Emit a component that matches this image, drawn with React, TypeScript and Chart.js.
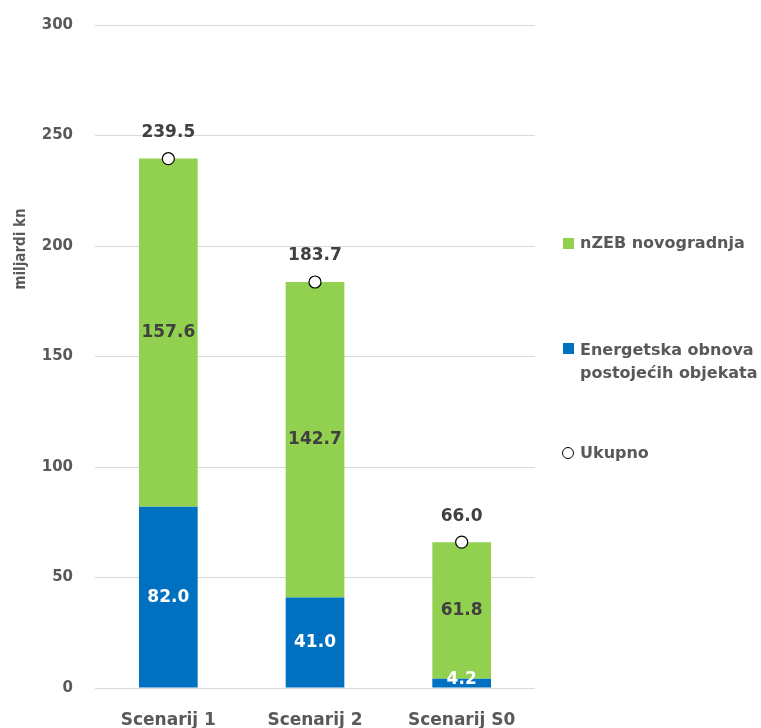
import React, { useEffect, useRef } from "react";
import { Chart, registerables } from "chart.js";

Chart.register(...registerables);

const categories = ["Scenarij 1", "Scenarij 2", "Scenarij S0"];
const obnovaValues = [82.0, 41.0, 4.2];
const nzebValues = [157.6, 142.7, 61.8];
const totalValues = [239.5, 183.7, 66.0];
const seriesNames = ["Energetska obnova postojećih objekata", "nZEB novogradnja", "Ukupno"];
const axisTitle = "miljardi kn";

const BLUE = "#0070C0";
const GREEN = "#92D050";
const TEXT = "#595959";
const DARK = "#404040";
const FONT = "'DejaVu Sans', sans-serif";

const labelPlugin = {
  id: "valueLabels",
  afterDatasetsDraw(chart: any) {
    const ctx = chart.ctx;
    ctx.save();
    ctx.font = `bold 17px ${FONT}`;
    ctx.textAlign = "center";
    ctx.textBaseline = "middle";
    chart.data.datasets.forEach((ds: any, di: number) => {
      const meta = chart.getDatasetMeta(di);
      meta.data.forEach((el: any, i: number) => {
        const v = ds.data[i] as number;
        if (di === 2) {
          ctx.fillStyle = DARK;
          ctx.fillText(v.toFixed(1), el.x, el.y - 26);
        } else {
          ctx.fillStyle = di === 0 ? "#ffffff" : DARK;
          const y = di === 0 && v < 10 ? el.base - 8 : (el.y + el.base) / 2;
          ctx.fillText(v.toFixed(1), el.x, y);
        }
      });
    });
    // axis title
    ctx.save();
    ctx.translate(21, 249);
    ctx.rotate(-Math.PI / 2);
    ctx.font = `bold 15px 'DejaVu Sans Condensed', ${FONT}`;
    ctx.fillStyle = TEXT;
    ctx.fillText(axisTitle, 0, 0);
    ctx.restore();
    ctx.restore();
  },
};

export default function App() {
  const ref = useRef<HTMLCanvasElement>(null);
  useEffect(() => {
    if (!ref.current) return;
    const chart = new Chart(ref.current, {
      type: "bar",
      data: {
        labels: categories,
        datasets: [
          {
            type: "bar",
            label: seriesNames[0],
            data: obnovaValues,
            backgroundColor: BLUE,
            stack: "a",
            categoryPercentage: 1,
            barPercentage: 0.4,
            order: 2,
          },
          {
            type: "bar",
            label: seriesNames[1],
            data: nzebValues,
            backgroundColor: GREEN,
            stack: "a",
            categoryPercentage: 1,
            barPercentage: 0.4,
            order: 2,
          },
          {
            type: "line",
            label: seriesNames[2],
            data: totalValues,
            showLine: false,
            stack: "tot",
            pointRadius: 6,
            pointBackgroundColor: "#ffffff",
            pointBorderColor: "#000000",
            pointBorderWidth: 1.2,
            order: 0,
          } as any,
        ],
      },
      options: {
        responsive: false,
        animation: false,
        layout: { padding: { left: 0, right: 226, top: 25, bottom: 0 } },
        plugins: { legend: { display: false }, tooltip: { enabled: false } },
        scales: {
          x: {
            stacked: true,
            grid: { display: false },
            border: { display: false },
            ticks: { color: TEXT, font: { family: FONT, size: 17, weight: "bold" }, padding: 14 },
            afterFit: (s: any) => {
              s.height = 40;
            },
          },
          y: {
            stacked: true,
            min: 0,
            max: 300,
            grid: { color: "#d9d9d9", drawTicks: true, tickLength: 22, tickColor: "rgba(0,0,0,0)" },
            border: { display: false },
            ticks: { stepSize: 50, color: TEXT, font: { family: FONT, size: 15, weight: "bold" }, padding: 0 },
            afterFit: (s: any) => {
              s.width = 95;
            },
          },
        },
      },
      plugins: [labelPlugin],
    });
    return () => chart.destroy();
  }, []);

  const textStyle: React.CSSProperties = {
    position: "absolute",
    left: 580,
    font: `bold 16px ${FONT}`,
    color: TEXT,
    lineHeight: "23px",
    whiteSpace: "nowrap",
  };

  return (
    <div style={{ position: "absolute", left: 0, top: 0, width: 761, height: 728, background: "#fff" }}>
      <canvas ref={ref} width={761} height={728} style={{ display: "block" }} />
      <div style={{ position: "absolute", left: 563, top: 238, width: 11, height: 11, background: GREEN }} />
      <div style={{ ...textStyle, top: 231 }}>{seriesNames[1]}</div>
      <div style={{ position: "absolute", left: 563, top: 343, width: 11, height: 11, background: BLUE }} />
      <div style={{ ...textStyle, top: 338 }}>
        Energetska obnova
        <br />
        postojećih objekata
      </div>
      <div
        style={{
          position: "absolute",
          left: 562,
          top: 447,
          width: 10,
          height: 10,
          borderRadius: "50%",
          border: "1px solid #000",
          background: "#fff",
        }}
      />
      <div style={{ ...textStyle, top: 441 }}>{seriesNames[2]}</div>
    </div>
  );
}
